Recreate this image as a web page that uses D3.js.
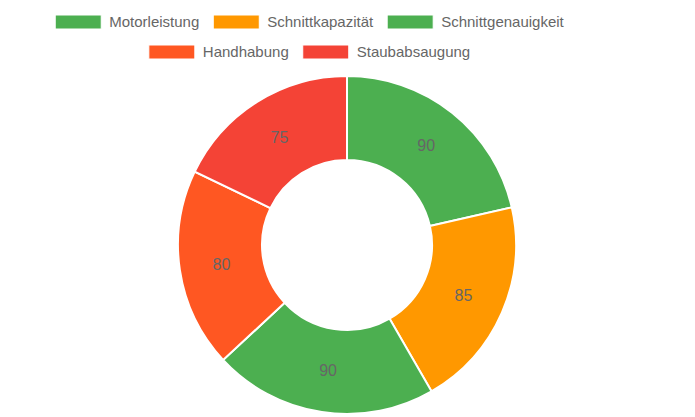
<!DOCTYPE html>
<html lang="de">
<head>
    <meta charset="UTF-8">
    <title>Bewertung</title>
    <script src="https://d3js.org/d3.v7.min.js"></script>
    <style>
        body { margin: 0; background: #fff; }
        text { font-family: "Liberation Sans", Arial, sans-serif; fill: #666; }
    </style>
</head>
<body>
    <div id="chart"></div>
    <script>
        const categories = ["Motorleistung", "Schnittkapazität", "Schnittgenauigkeit", "Handhabung", "Staubabsaugung"];
        const values = [90, 85, 90, 80, 75];
        const colors = ["#4CAF50", "#FF9800", "#4CAF50", "#FF5722", "#F44336"];
        const legendRows = [[0, 1, 2], [3, 4]];

        const width = 695, height = 417;
        const cx = 347, cy = 245, outerR = 169, innerR = 85;

        const svg = d3.select("#chart").append("svg")
            .attr("width", width)
            .attr("height", height);

        // legend, two centred rows
        const legend = svg.append("g");
        const boxW = 46, boxH = 14, gap = 8, itemPad = 14, legendCenter = 309.5;
        legendRows.forEach((row, ri) => {
            const y = 22 + ri * 30;
            const g = legend.append("g");
            const items = row.map(i => {
                const item = g.append("g");
                item.append("rect")
                    .attr("width", boxW)
                    .attr("height", boxH)
                    .attr("y", y - boxH / 2)
                    .attr("fill", colors[i])
                    .attr("stroke", "#fff")
                    .attr("stroke-width", 1);
                const t = item.append("text")
                    .attr("x", boxW + gap)
                    .attr("y", y)
                    .attr("dy", "0.35em")
                    .style("font-size", "15px")
                    .text(categories[i]);
                return { item, w: boxW + gap + t.node().getComputedTextLength() };
            });
            const total = d3.sum(items, d => d.w) + itemPad * (items.length - 1);
            let x = legendCenter - total / 2;
            items.forEach(d => {
                d.item.attr("transform", `translate(${x},0)`);
                x += d.w + itemPad;
            });
        });

        const pie = d3.pie().sort(null).value(d => d);
        const arc = d3.arc().innerRadius(innerR).outerRadius(outerR);
        const labelArc = d3.arc().innerRadius((innerR + outerR) / 2).outerRadius((innerR + outerR) / 2);

        const g = svg.append("g").attr("transform", `translate(${cx},${cy})`);
        const arcs = pie(values);

        g.selectAll("path")
            .data(arcs)
            .join("path")
            .attr("d", arc)
            .attr("fill", (d, i) => colors[i])
            .attr("stroke", "#fff")
            .attr("stroke-width", 2);

        g.selectAll("text")
            .data(arcs)
            .join("text")
            .attr("transform", d => `translate(${labelArc.centroid(d)})`)
            .attr("text-anchor", "middle")
            .attr("dy", "0.35em")
            .style("font-size", "16px")
            .text(d => d.data);
    </script>
</body>
</html>
